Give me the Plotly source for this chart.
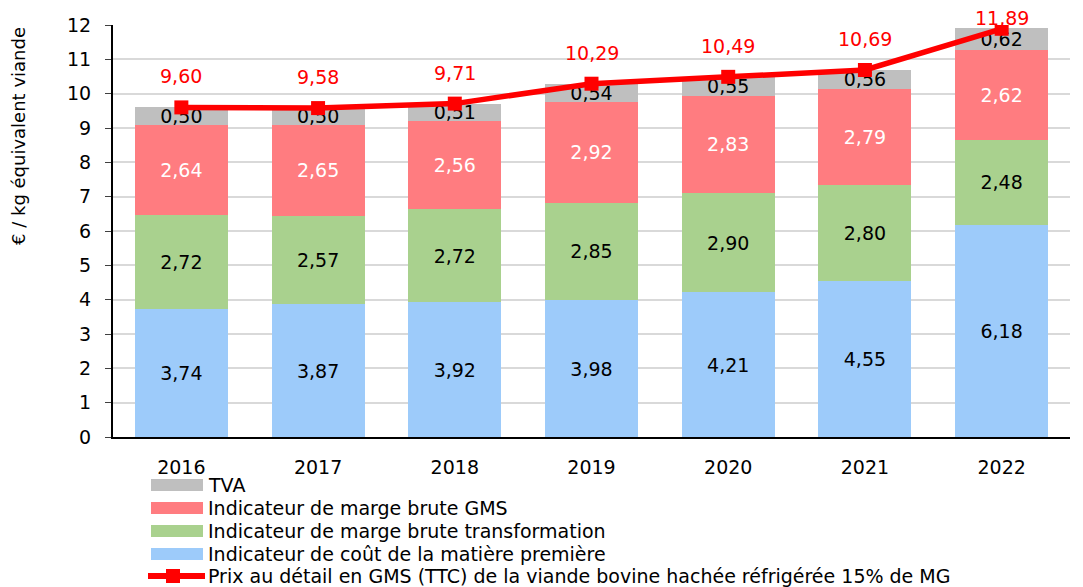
import plotly.graph_objects as go

years = ["2016", "2017", "2018", "2019", "2020", "2021", "2022"]
matiere = [3.74, 3.87, 3.92, 3.98, 4.21, 4.55, 6.18]
transfo = [2.72, 2.57, 2.72, 2.85, 2.90, 2.80, 2.48]
gms = [2.64, 2.65, 2.56, 2.92, 2.83, 2.79, 2.62]
tva = [0.50, 0.50, 0.51, 0.54, 0.55, 0.56, 0.62]
prix = [9.60, 9.58, 9.71, 10.29, 10.49, 10.69, 11.89]

names = {
    "tva": "TVA",
    "gms": "Indicateur de marge brute GMS",
    "transfo": "Indicateur de marge brute transformation",
    "matiere": "Indicateur de coût de la matière première",
    "prix": "Prix au détail en GMS (TTC) de la viande bovine hachée réfrigérée 15% de MG",
}
colors = {"tva": "#BFBFBF", "gms": "#FF7C80", "transfo": "#A9D18E",
          "matiere": "#9DCBFA", "prix": "#FF0000"}

label_shift = [31, 31, 31, 31, 31, 31, 11]

FONT = "DejaVu Sans"
FS = 19
fig = go.Figure()

def add_bar(key, vals, txtcolor):
    fig.add_trace(go.Bar(
        x=years, y=vals, name=names[key], marker=dict(color=colors[key], line=dict(width=0)),
        texttemplate="%{y:.2f}", textposition="inside", insidetextanchor="middle",
        constraintext="none", textangle=0,
        textfont=dict(color=txtcolor, size=FS, family=FONT),
        hoverinfo="skip", showlegend=False,
    ))

add_bar("matiere", matiere, "black")
add_bar("transfo", transfo, "black")
add_bar("gms", gms, "white")
add_bar("tva", tva, "black")

fig.add_trace(go.Scatter(
    x=years, y=prix, mode="lines+markers", name=names["prix"],
    line=dict(color=colors["prix"], width=5.5),
    marker=dict(symbol="square", size=14, color=colors["prix"]),
    showlegend=False,
))

for i, (p, s) in enumerate(zip(prix, label_shift)):
    fig.add_annotation(x=i, y=p, xref="x", yref="y", text=f"{p:.2f}".replace(".", ","),
                       showarrow=False, yshift=s, borderpad=0,
                       font=dict(color=colors["prix"], size=FS, family=FONT))

# ---- layout helpers (pixel -> paper) ----
W, H = 1075, 579
L, R, T, B = 105, 13, 17, 150
pw, ph = W - L - R, H - T - B
def px(x):
    return (x - L) / pw
def py(y):
    return (H - B - y) / ph

# y-axis title as rotated text
fig.add_annotation(xref="paper", yref="paper", x=px(10), y=py(128), textangle=-90,
                   text="€ / kg équivalent viande", showarrow=False,
                   xanchor="center", yanchor="middle",
                   font=dict(size=18, family=FONT, color="black"))

# ---- custom legend ----
legend_keys = ["tva", "gms", "transfo", "matiere", "prix"]
row_y = [477, 500, 523, 546, 568]
sw_x0, sw_x1, txt_x = 143, 195, 199
for key, yc in zip(legend_keys, row_y):
    if key == "prix":
        fig.add_shape(type="line", xref="paper", yref="paper",
                      x0=px(sw_x0 - 3), x1=px(sw_x1 + 2), y0=py(yc), y1=py(yc),
                      line=dict(color=colors[key], width=6))
        fig.add_shape(type="rect", xref="paper", yref="paper",
                      x0=px(158), x1=px(172), y0=py(yc - 7), y1=py(yc + 7),
                      fillcolor=colors[key], line=dict(width=0))
    else:
        fig.add_shape(type="rect", xref="paper", yref="paper",
                      x0=px(sw_x0), x1=px(sw_x1), y0=py(yc - 6), y1=py(yc + 6),
                      fillcolor=colors[key], line=dict(width=0))
    fig.add_annotation(xref="paper", yref="paper", x=px(txt_x), y=py(yc),
                       xanchor="left", yanchor="middle", text=names[key], showarrow=False,
                       borderpad=0,
                       font=dict(size=FS, family=FONT, color="black"))

fig.update_layout(
    width=W, height=H,
    barmode="stack", bargap=0.32,
    separators=", ",
    plot_bgcolor="white", paper_bgcolor="white",
    font=dict(family=FONT, size=FS, color="black"),
    margin=dict(l=L, r=R, t=T, b=B, autoexpand=False),
    showlegend=False,
    xaxis=dict(showline=True, linecolor="black", linewidth=2, ticks="",
               tickfont=dict(size=FS), range=[-0.5, 6.5], ticklabelstandoff=12),
    yaxis=dict(range=[0, 12], dtick=1, showgrid=True, gridcolor="#D9D9D9", gridwidth=1.5,
               showline=True, linecolor="black", linewidth=2, ticks="outside",
               ticklen=6, tickcolor="#404040", tickfont=dict(size=FS), ticklabelstandoff=10,
               zeroline=False),
)

fig.write_html("out.html")
